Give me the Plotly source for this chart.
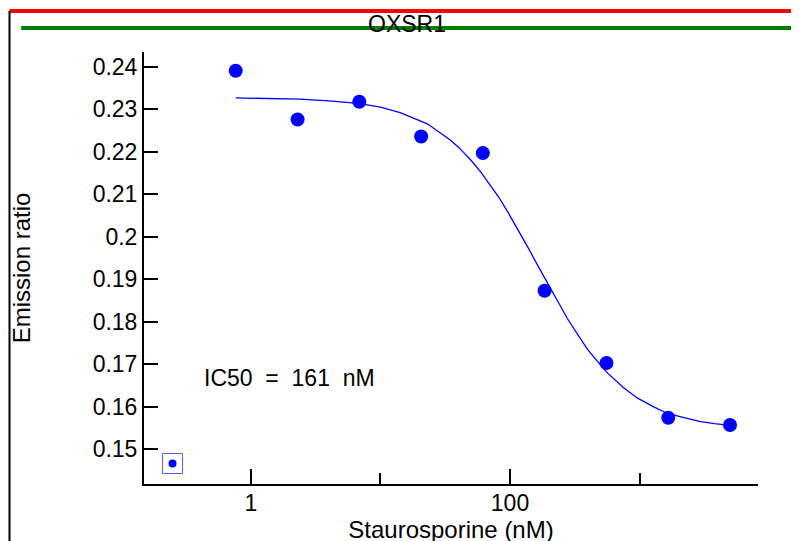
import plotly.graph_objects as go

# Measured data (Staurosporine, nM) and emission ratio
conc_nM = [0.762, 2.29, 6.86, 20.6, 61.7, 185, 556, 1667, 5000]
emission_ratio = [0.2391, 0.2276, 0.2318, 0.2236, 0.2197, 0.1873, 0.1703, 0.1574, 0.1557]

# Fitted curve
fit_x = [0.762, 1.3, 2.39, 4.0, 6.72, 10, 14.2, 23.0, 34.6, 40, 49.4, 60, 70.5, 82, 95.5,
         110, 127, 140, 160, 195, 230, 278, 330, 397, 470, 567, 750, 967, 1300, 1649,
         2200, 2970, 3800, 5000]
fit_y = [0.2327, 0.2326, 0.2324, 0.2320, 0.2314, 0.2305, 0.2292, 0.2266, 0.2228, 0.2211,
         0.2182, 0.2151, 0.2121, 0.2093, 0.2060, 0.2028, 0.1994, 0.1971, 0.1938, 0.1890,
         0.1851, 0.1807, 0.1772, 0.1735, 0.1708, 0.1679, 0.1645, 0.1620, 0.1599, 0.1584,
         0.1574, 0.1565, 0.1560, 0.1556]

y_ticks = [0.15, 0.16, 0.17, 0.18, 0.19, 0.2, 0.21, 0.22, 0.23, 0.24]
y_ticktext = ["0.15", "0.16", "0.17", "0.18", "0.19", "0.2", "0.21", "0.22", "0.23", "0.24"]
x_major = [1, 100]
x_major_text = ["1", "100"]
x_minor = [10, 1000]

FONT = "Liberation Sans, Arial, sans-serif"
BLUE = "#0000ff"
FS = 23
FT = 24

# page offset compensation (body margin of 8px)
L, T, PW, PH = 136, 44, 614, 432

fig = go.Figure()
fig.add_trace(go.Scatter(x=fit_x, y=fit_y, mode="lines", line=dict(color=BLUE, width=1.3),
                         showlegend=False, hoverinfo="skip"))
fig.add_trace(go.Scatter(x=conc_nM, y=emission_ratio, mode="markers",
                         marker=dict(color=BLUE, size=14), showlegend=False))

fig.update_layout(
    width=799, height=541,
    margin=dict(l=L, r=799-L-PW, t=T, b=541-T-PH, autoexpand=False),
    paper_bgcolor="white", plot_bgcolor="white",
    font=dict(family=FONT, size=FS, color="black"),
    title=dict(text="OXSR1", x=399/799, xref="container", xanchor="center",
               y=1-16/541, yref="container", yanchor="middle", automargin=False,
               font=dict(family=FONT, size=FS, color="black")),
    xaxis=dict(type="log", range=[-0.826, 3.915], showgrid=False, zeroline=False,
               automargin=False,
               showline=True, linecolor="black", linewidth=2,
               ticks="inside", ticklen=15, tickwidth=2, tickcolor="black",
               tickvals=x_major, ticktext=x_major_text, ticklabelstandoff=-3,
               minor=dict(tickvals=x_minor, ticks="inside", ticklen=11, tickwidth=2, tickcolor="black"),
               title=dict(text="Staurosporine (nM)", standoff=4, font=dict(size=FT))),
    yaxis=dict(range=[0.1418, 0.2435], showgrid=False, zeroline=False,
               automargin=False,
               showline=True, linecolor="black", linewidth=2,
               ticks="inside", ticklen=14, tickwidth=2, tickcolor="black",
               tickvals=y_ticks, ticktext=y_ticktext,
               title=dict(text="Emission ratio", standoff=58, font=dict(size=FT))),
)

# outer frame (clipped by the page edges)
fx0 = (1.5 - L) / PW
fy1 = (PH + T - 3) / PH
fig.add_shape(type="line", xref="paper", yref="paper", x0=fx0, x1=1.2, y0=fy1, y1=fy1,
              line=dict(color="red", width=4), layer="above")
fig.add_shape(type="line", xref="paper", yref="paper", x0=-0.2, x1=1.2, y0=(PH+T-20)/PH, y1=(PH+T-20)/PH,
              line=dict(color="green", width=4), layer="above")
fig.add_shape(type="line", xref="paper", yref="paper", x0=fx0, x1=fx0, y0=-0.2, y1=fy1,
              line=dict(color="black", width=2), layer="above")

# legend-like symbol box
bx, by = (172.5-144)/PW, (484-463.5)/PH
fig.add_shape(type="rect", xref="paper", yref="paper", xsizemode="pixel", ysizemode="pixel",
              xanchor=bx, yanchor=by, x0=-10, x1=10, y0=-10, y1=10,
              line=dict(color="#5c5cff", width=1))
fig.add_shape(type="circle", xref="paper", yref="paper", xsizemode="pixel", ysizemode="pixel",
              xanchor=bx, yanchor=by, x0=-4, x1=4, y0=-4, y1=4,
              fillcolor=BLUE, line=dict(color=BLUE, width=0))

fig.add_annotation(xref="paper", yref="paper", x=(289-144)/PW, y=(484-378)/PH,
                   xanchor="center", yanchor="middle",
                   text="IC50\u00a0 =\u00a0 161\u00a0 nM", showarrow=False,
                   font=dict(family=FONT, size=FS, color="black"))

fig.write_html("out.html")
